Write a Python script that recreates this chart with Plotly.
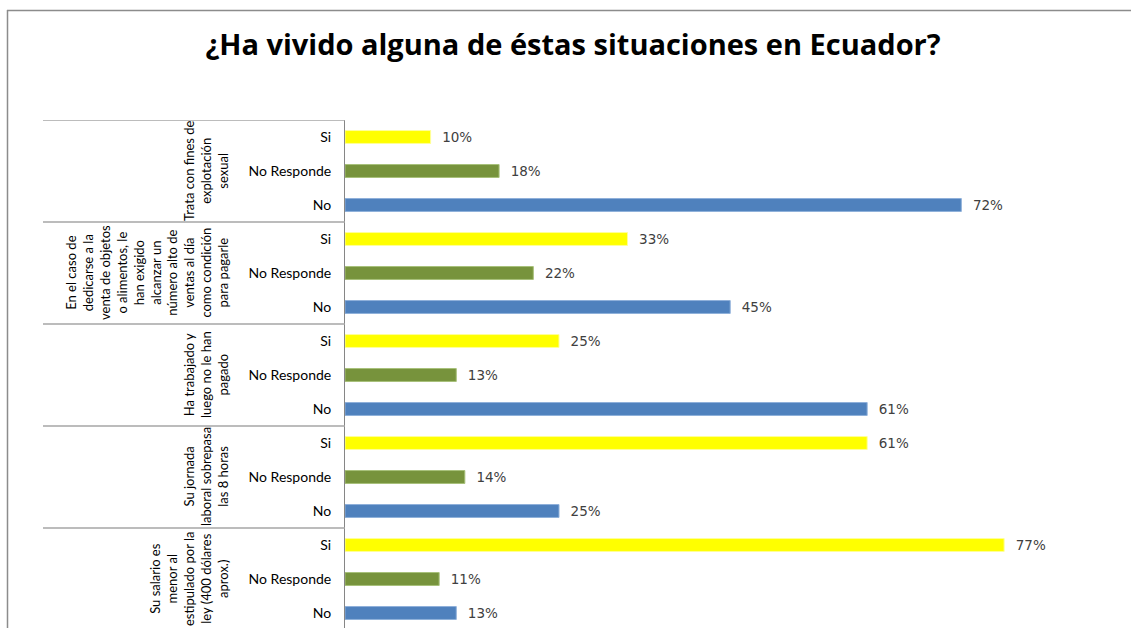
import plotly.graph_objects as go

# ---------------- data ----------------
groups = [
    "Trata con fines de<br>explotación<br>sexual",
    "En el caso de<br>dedicarse a la<br>venta de objetos<br>o alimentos, le<br>han exigido<br>alcanzar un<br>número alto de<br>ventas al día<br>como condición<br>para pagarle",
    "Ha trabajado y<br>luego no le han<br>pagado",
    "Su jornada<br>laboral sobrepasa<br>las 8 horas",
    "Su salario es<br>menor al<br>estipulado por la<br>ley (400 dólares<br>aprox.)",
]
answers = ["Si", "No Responde", "No"]
si_vals = [10, 33, 25, 61, 77]
nr_vals = [18, 22, 13, 14, 11]
no_vals = [72, 45, 61, 25, 13]
colors = {"Si": "#FFFF00", "No Responde": "#77933C", "No": "#4F81BD"}
edge = {"Si": "#FFFF99", "No Responde": "#A8C07A", "No": "#8FB0DA"}

# ---------------- layout constants ----------------
W, H = 1131, 628
L, R, T, B = 345, 0, 120, 0
pw, ph = W - L - R, H - T - B
def px_x(p):  # pixel -> paper x
    return (p - L) / pw
def px_y(p):  # pixel -> paper y
    return (H - B - p) / ph

series = {"Si": si_vals, "No Responde": nr_vals, "No": no_vals}
fig = go.Figure()
for k, ans in enumerate(answers):
    ys = [g * 3 + k for g in range(len(groups))]
    fig.add_trace(go.Bar(
        x=series[ans], y=ys, orientation="h", width=0.38,
        marker=dict(color=colors[ans], line=dict(color=edge[ans], width=1)),
        text=series[ans], texttemplate="  %{x}%", textposition="outside",
        constraintext="none",
        textfont=dict(family="DejaVu Sans", size=13.5, color="#404040"),
        cliponaxis=False, showlegend=False, name=ans,
    ))

n = len(groups) * 3
tickvals = list(range(n))
ticktext = [answers[i % 3] for i in range(n)]

fig.update_layout(
    width=W, height=H,
    margin=dict(l=L, r=R, t=T, b=B, pad=0),
    paper_bgcolor="white", plot_bgcolor="white",
    barmode="overlay",
    title=dict(text="<b>¿Ha vivido alguna de éstas situaciones en Ecuador?</b>",
               x=573 / W, xanchor="center",
               y=1 - 45 / H, yanchor="middle",
               font=dict(family="Open Sans", size=29, color="#000000")),
    xaxis=dict(range=[0, pw / 8.56], visible=False, fixedrange=True),
    yaxis=dict(range=[n - 0.5 - 2 / 34, -0.5], tickvals=tickvals, ticktext=ticktext,
               showgrid=False, zeroline=False, showline=True, linecolor="#868686",
               linewidth=1, ticks="", ticklabelstandoff=10,
               tickfont=dict(family="Lato", size=14, color="#000000")),
    font=dict(family="Lato"),
)

shapes = []
# group separators on the category area
for g in range(len(groups)):
    yb = g * 3 - 0.5
    shapes.append(dict(type="line", xref="paper", yref="y", x0=px_x(43), x1=0,
                       y0=yb, y1=yb, line=dict(color="#A6A6A6", width=1.5)))
# outer chart frame (top and left)
shapes.append(dict(type="line", xref="paper", yref="paper", x0=px_x(7), x1=px_x(W),
                   y0=px_y(10.5), y1=px_y(10.5), line=dict(color="#8C8C8C", width=1.5)))
shapes.append(dict(type="line", xref="paper", yref="paper", x0=px_x(7.5), x1=px_x(7.5),
                   y0=px_y(10), y1=px_y(H), line=dict(color="#8C8C8C", width=1.5)))
fig.update_layout(shapes=shapes)

# rotated outer group labels
for g, lab in enumerate(groups):
    fig.add_annotation(
        text=lab, xref="paper", yref="y", x=px_x(233), y=g * 3 + 1,
        xanchor="right", yanchor="middle", textangle=-90, showarrow=False,
        align="center", font=dict(family="Lato", size=13, color="#000000"),
    )

fig.write_html("out.html", config={"displayModeBar": False},
               post_script="document.body.style.margin='0';document.body.style.overflow='hidden';")
